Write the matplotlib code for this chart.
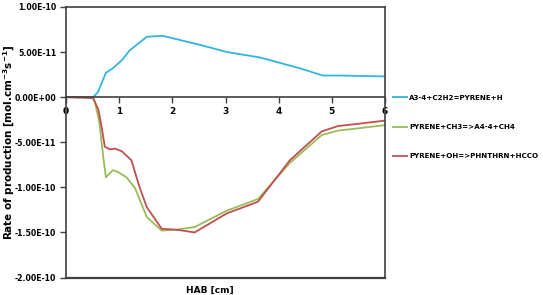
import numpy as np
import matplotlib.pyplot as plt

# reading off the HAB profile (x in cm, rates in 1e-11 mol.cm-3.s-1)
hab_h = [0.0, 0.51, 0.60, 0.75, 0.88, 1.05, 1.20, 1.52, 1.82, 2.52, 3.03, 3.65, 4.40, 4.83, 5.15, 6.0]
rate_h = [0.0, 0.0, 0.56, 2.7, 3.2, 4.1, 5.2, 6.7, 6.8, 5.8, 5.0, 4.4, 3.2, 2.4, 2.4, 2.3]

hab_ch3 = [0.0, 0.50, 0.55, 0.63, 0.70, 0.75, 0.88, 0.98, 1.14, 1.30, 1.52, 1.80, 2.08, 2.42, 3.02, 3.61, 4.21, 4.81, 5.12, 5.43, 6.0]
rate_ch3 = [0.0, 0.0, -0.67, -2.9, -6.6, -8.9, -8.1, -8.3, -8.9, -10.1, -13.3, -14.8, -14.7, -14.4, -12.6, -11.3, -7.3, -4.2, -3.7, -3.5, -3.1]

hab_oh = [0.0, 0.51, 0.61, 0.67, 0.73, 0.83, 0.92, 1.05, 1.23, 1.39, 1.52, 1.80, 2.08, 2.42, 3.02, 3.61, 4.21, 4.81, 5.12, 5.43, 6.0]
rate_oh = [0.0, -0.1, -1.4, -3.3, -5.5, -5.8, -5.7, -6.0, -7.0, -10.1, -12.2, -14.6, -14.7, -15.0, -12.9, -11.6, -7.0, -3.8, -3.2, -3.0, -2.6]

labels = ['A3-4+C2H2=PYRENE+H', 'PYRENE+CH3=>A4-4+CH4', 'PYRENE+OH=>PHNTHRN+HCCO']
colors = ['#33B5E2', '#9BBB59', '#C0504D']

yticks = [1e-10, 5e-11, 0, -5e-11, -1e-10, -1.5e-10, -2e-10]
ytick_labels = ['1.00E-10', '5.00E-11', '0.00E+00', '-5.00E-11', '-1.00E-10', '-1.50E-10', '-2.00E-10']
xticks = [0, 1, 2, 3, 4, 5, 6]

fig = plt.figure(figsize=(5.43, 2.95), dpi=100)
ax = fig.add_axes([66/543, 1-277.5/295, 319/543, 270.5/295])

series = [(hab_h, rate_h), (hab_ch3, rate_ch3), (hab_oh, rate_oh)]
for (x, y), lab, c in zip(series, labels, colors):
    ax.plot(x, np.array(y) * 1e-11, color=c, lw=1.3, label=lab)

ax.set_xlim(0, 6)
ax.set_ylim(-2e-10, 1e-10)

edge = '#404040'
# x axis sits on the zero line, box closed with a line at the bottom
ax.spines['bottom'].set_position(('data', 0))
for s in ax.spines.values():
    s.set_color(edge)
    s.set_linewidth(1.2)
ax.axhline(-2e-10, color=edge, lw=1.6, clip_on=False)

ax.set_xticks(xticks)
ax.set_xticklabels([str(t) for t in xticks], fontsize=6.5, fontweight='bold')
ax.set_yticks(yticks)
ax.set_yticklabels(ytick_labels, fontsize=5.6, fontweight='bold')
ax.tick_params(axis='x', direction='out', length=4, width=1, color=edge, pad=3)
ax.tick_params(axis='y', direction='out', length=4, width=1, color=edge, pad=3)

fig.text(9/543, 1-142/295, 'Rate of production [mol.cm$^{\\mathbf{-3}}$s$^{\\mathbf{-1}}$]',
         fontsize=7.5, fontweight='bold', rotation=90, ha='center', va='center')
fig.text(210/543, 1-290/295, 'HAB [cm]', fontsize=6.5, fontweight='bold', ha='center', va='center')

fig.legend(loc='center left', bbox_to_anchor=(393/543, 1-127/295), frameon=False,
           prop={'weight': 'bold', 'size': 5.1}, handlelength=2.0, handletextpad=0.25,
           labelspacing=3.3, borderpad=0, borderaxespad=0)

fig.savefig('out.png', dpi=100)
